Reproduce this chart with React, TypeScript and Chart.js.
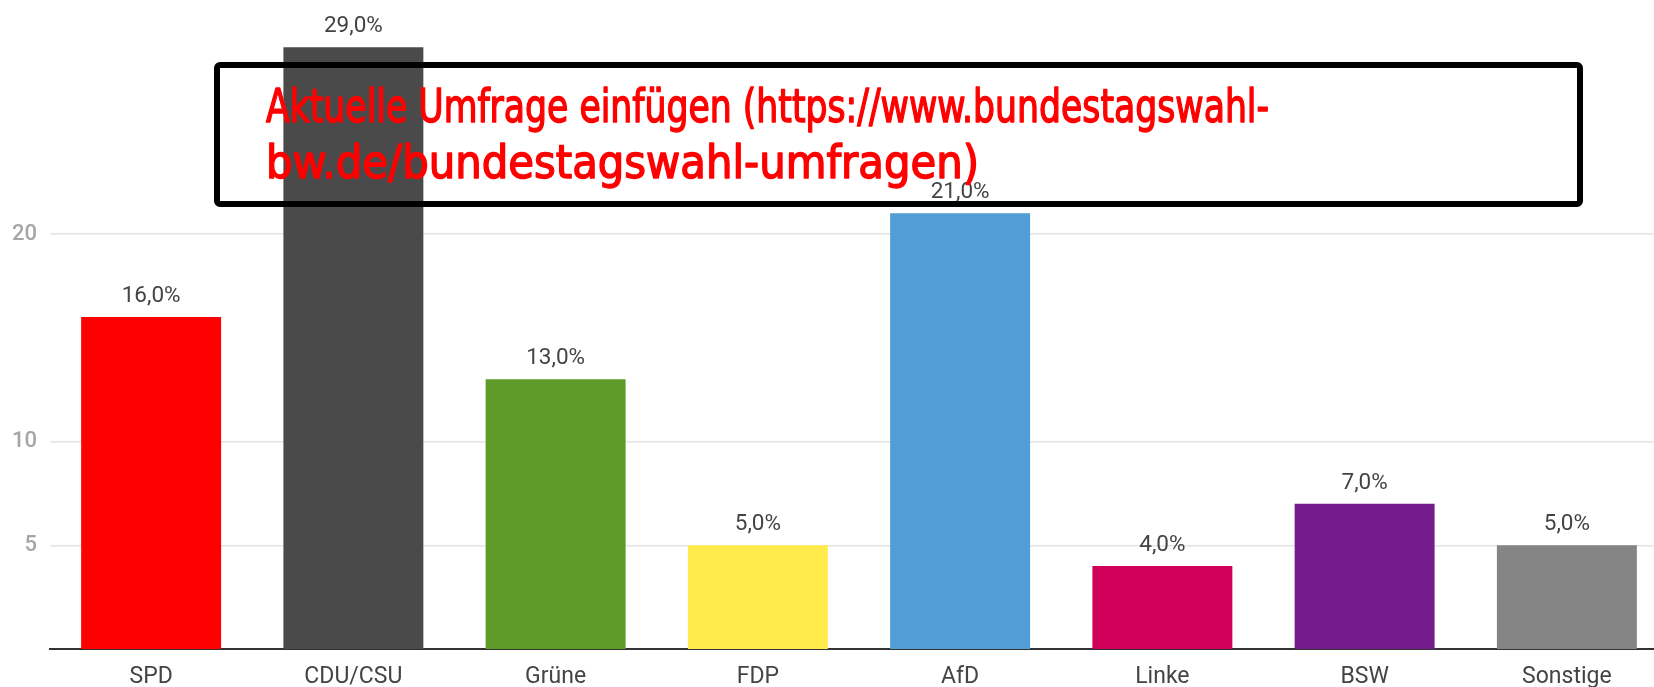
import React, { useEffect, useRef } from "react";
import { Chart, registerables } from "chart.js";

Chart.register(...registerables);

const categories = ["SPD", "CDU/CSU", "Grüne", "FDP", "AfD", "Linke", "BSW", "Sonstige"];
const values = [16, 29, 13, 5, 21, 4, 7, 5];
const barColors = ["#ff0000", "#4a4a4a", "#5f9b29", "#ffeb4c", "#519dd5", "#d1005b", "#741c8d", "#858585"];
const yTickValues = [5, 10, 20];
const yMax = 30.02;
const noteLines = [
  "Aktuelle Umfrage einfügen (https://www.bundestagswahl-",
  "bw.de/bundestagswahl-umfragen)",
];
const noteWidths = [1003, 713];

const fmt = (v: number) => v.toFixed(1).replace(".", ",") + "%";

const valueLabels = {
  id: "valueLabels",
  afterDatasetsDraw(chart: any) {
    const ctx = chart.ctx;
    const meta = chart.getDatasetMeta(0);
    ctx.save();
    ctx.font = "22.5px Roboto";
    ctx.fillStyle = "#444444";
    ctx.textAlign = "center";
    ctx.textBaseline = "alphabetic";
    meta.data.forEach((bar: any, i: number) => {
      ctx.fillText(fmt(values[i]), bar.x, bar.y - 15);
    });
    ctx.restore();
  },
};

const noteBox = {
  id: "noteBox",
  afterDraw(chart: any) {
    const ctx = chart.ctx;
    ctx.save();
    ctx.lineWidth = 6;
    ctx.strokeStyle = "#000000";
    ctx.beginPath();
    if (ctx.roundRect) ctx.roundRect(217, 65, 1363, 139, 3);
    else ctx.rect(217, 65, 1363, 139);
    ctx.stroke();
    ctx.fillStyle = "#ff0000";
    ctx.strokeStyle = "#ff0000";
    ctx.lineWidth = 1.4;
    ctx.lineJoin = "round";
    ctx.font = "46px 'DejaVu Sans', sans-serif";
    try {
      (ctx as any).fontStretch = "condensed";
    } catch (e) {}
    ctx.textBaseline = "alphabetic";
    ctx.textAlign = "left";
    const baselines = [122, 178];
    noteLines.forEach((t, i) => {
      const w = ctx.measureText(t).width;
      ctx.save();
      ctx.translate(266, baselines[i]);
      ctx.scale(noteWidths[i] / w, 1);
      ctx.fillText(t, 0, 0);
      ctx.strokeText(t, 0, 0);
      ctx.restore();
    });
    ctx.restore();
  },
};

export default function App() {
  const ref = useRef<HTMLCanvasElement>(null);
  useEffect(() => {
    if (!ref.current) return;
    const chart = new Chart(ref.current, {
      type: "bar",
      data: {
        labels: categories,
        datasets: [
          {
            data: values,
            backgroundColor: barColors,
            borderWidth: 0,
            categoryPercentage: 1,
            barPercentage: 0.692,
          },
        ],
      },
      options: {
        animation: false,
        responsive: false,
        layout: { padding: 0 },
        plugins: { legend: { display: false }, tooltip: { enabled: false } },
        scales: {
          x: {
            grid: { display: false, drawTicks: false },
            border: { display: true, color: "#333333", width: 2 },
            ticks: { color: "#444444", font: { family: "Roboto", size: 23 }, padding: 14 },
            afterFit: (s: any) => {
              s.height = 38;
            },
          },
          y: {
            min: 0,
            max: yMax,
            afterBuildTicks: (s: any) => {
              s.ticks = yTickValues.map((v) => ({ value: v }));
            },
            grid: { color: "#e4e4e4", lineWidth: 1.5, drawTicks: false },
            border: { display: false },
            ticks: { color: "#a6a6a6", font: { family: "Roboto", size: 22, weight: "500" }, padding: 13 },
            afterFit: (s: any) => {
              s.width = 50;
            },
          },
        },
      },
      plugins: [valueLabels, noteBox],
    });
    return () => chart.destroy();
  }, []);
  return (
    <div
      style={{
        position: "fixed",
        left: 0,
        top: 0,
        width: 1654,
        height: 687,
        overflow: "hidden",
        background: "#ffffff",
      }}
    >
      <canvas ref={ref} width={1668} height={687} style={{ display: "block" }} />
    </div>
  );
}
